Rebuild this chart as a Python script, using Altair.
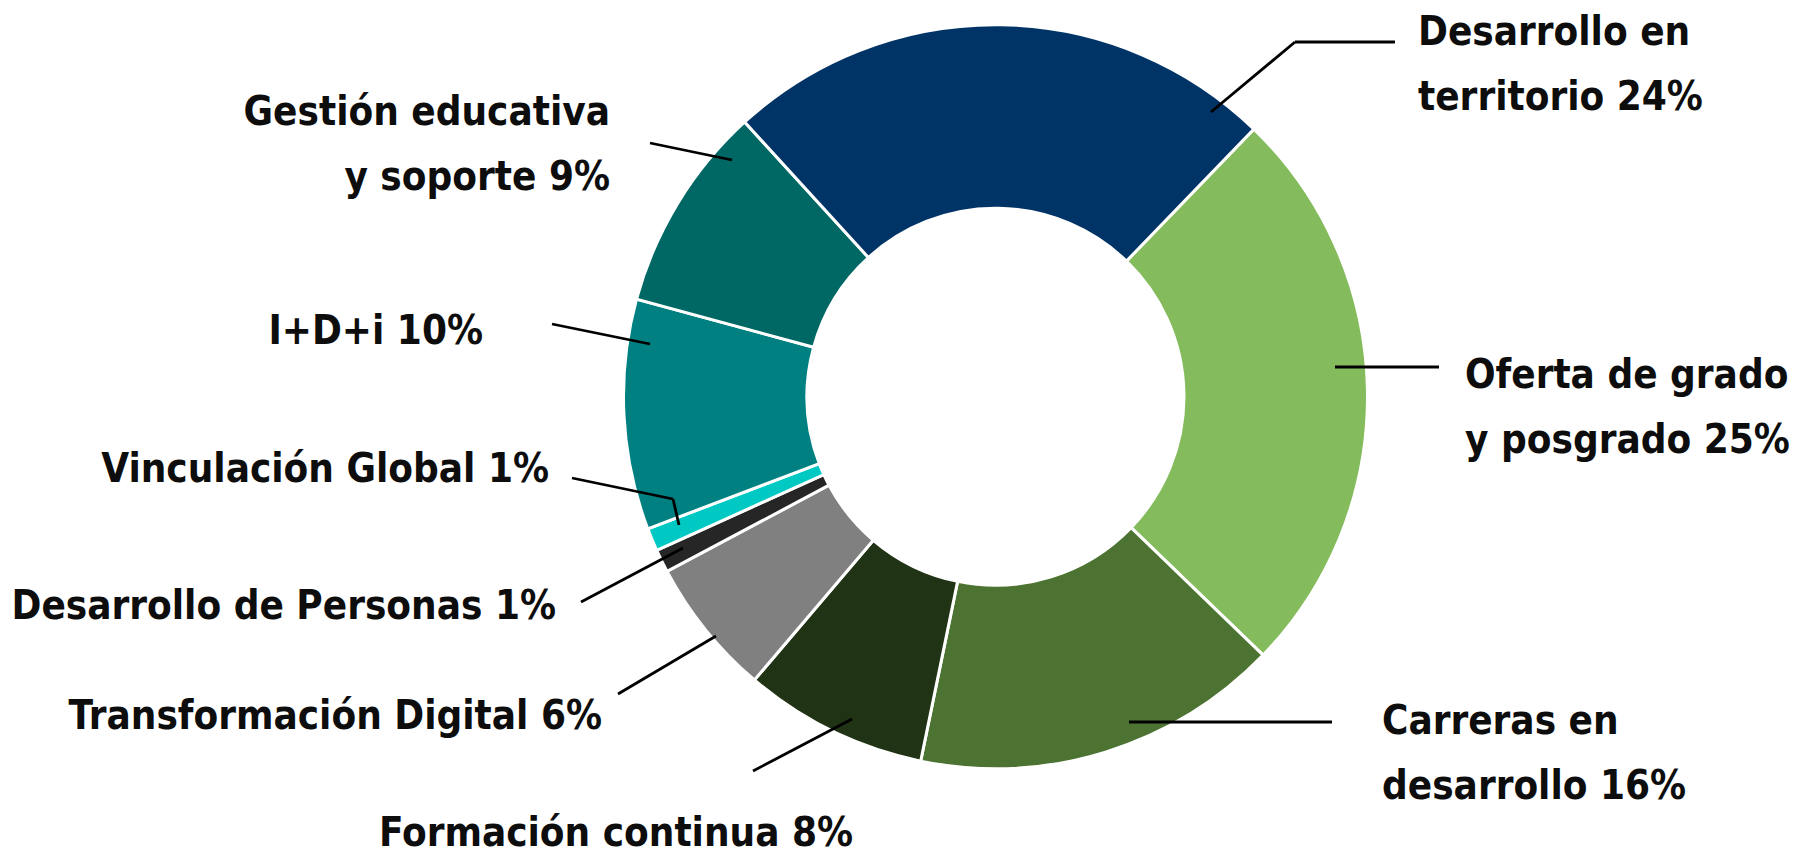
import math
import altair as alt
import pandas as pd

# ---------------- data ----------------
categories = [
    "Oferta de grado y posgrado",
    "Carreras en desarrollo",
    "Formación continua",
    "Transformación Digital",
    "Desarrollo de Personas",
    "Vinculación Global",
    "I+D+i",
    "Gestión educativa y soporte",
    "Desarrollo en territorio",
]
values = [25, 16, 8, 6, 1, 1, 10, 9, 24]
label_texts = [
    "Oferta de grado\ny posgrado 25%",
    "Carreras en\ndesarrollo 16%",
    "Formación continua 8%",
    "Transformación Digital 6%",
    "Desarrollo de Personas 1%",
    "Vinculación Global 1%",
    "I+D+i 10%",
    "Gestión educativa\ny soporte 9%",
    "Desarrollo en\nterritorio 24%",
]
colors = [
    "#84BB5C", "#4C7332", "#213315", "#808080", "#262626",
    "#00C8C2", "#008080", "#006864", "#003366",
]

# ---------------- layout (page pixel coordinates) ----------------
W, H = 1796, 845
OFF = 8
CENTER = (995.5, 396.7)
R_OUT, R_IN = 372, 188.5
START_DEG = 44

# label anchor: (x, baseline y of first line, align)
label_pos = [
    (1465, 388, "left"),
    (1382, 734, "left"),
    (616, 846, "center"),
    (602, 729, "right"),
    (556, 619, "right"),
    (549, 482, "right"),
    (483, 344, "right"),
    (610, 125, "right"),
    (1418, 45, "left"),
]
# leader line polylines
leaders = [
    [(1335, 367), (1439, 367)],
    [(1129, 722), (1332, 722)],
    [(753, 771), (852, 719)],
    [(618, 694), (716, 636)],
    [(581, 602), (683, 548)],
    [(572, 478), (673, 499), (679, 525)],
    [(552, 324), (650, 344)],
    [(650, 143), (732, 160)],
    [(1211, 112), (1295, 42), (1395, 42)],
]

FONT = "DejaVu Sans Condensed, sans-serif"

# ---------------- tables ----------------
slices = pd.DataFrame({"cat": categories, "value": values, "idx": list(range(len(values)))})

text_rows = []
for t, (x, y, a) in zip(label_texts, label_pos):
    text_rows.append({"text": t, "x": x, "y": y, "align": a})
texts = pd.DataFrame(text_rows)

seg_rows = []
for pts in leaders:
    for (x1, y1), (x2, y2) in zip(pts[:-1], pts[1:]):
        seg_rows.append({"x": x1, "y": y1, "x2": x2, "y2": y2})
segs = pd.DataFrame(seg_rows)

xs = alt.Scale(domain=[OFF, OFF + W], range=[0, W])
ys = alt.Scale(domain=[OFF, OFF + H], range=[0, H])
start = math.radians(START_DEG)

arcs = alt.Chart(slices).mark_arc(
    radius=R_OUT, radius2=R_IN, stroke="white", strokeWidth=3
).encode(
    theta=alt.Theta("value:Q", stack=True, scale=alt.Scale(range=[start, start + 2 * math.pi])),
    order=alt.Order("idx:Q"),
    color=alt.Color("cat:N", scale=alt.Scale(domain=categories, range=colors), legend=None),
    x=alt.value(CENTER[0] - OFF),
    y=alt.value(CENTER[1] - OFF),
)

rules = alt.Chart(segs).mark_rule(color="#000000", strokeWidth=2.8).encode(
    x=alt.X("x:Q", scale=xs, axis=None),
    y=alt.Y("y:Q", scale=ys, axis=None),
    x2="x2:Q",
    y2="y2:Q",
)

text_layers = []
for a in ["left", "right", "center"]:
    text_layers.append(
        alt.Chart(texts).transform_filter(alt.datum.align == a).mark_text(
            align=a, baseline="alphabetic", font=FONT, fontWeight="bold",
            fontSize=40, lineHeight=65, lineBreak="\n", color="#0d0d0d",
        ).encode(
            x=alt.X("x:Q", scale=xs, axis=None),
            y=alt.Y("y:Q", scale=ys, axis=None),
            text="text:N",
        )
    )

chart = alt.layer(arcs, rules, *text_layers).properties(
    width=W, height=H, padding=0, autosize=alt.AutoSizeParams(type="none")
).configure_view(strokeWidth=0)

chart.save("out.html", embed_options={"renderer": "svg", "actions": False})
